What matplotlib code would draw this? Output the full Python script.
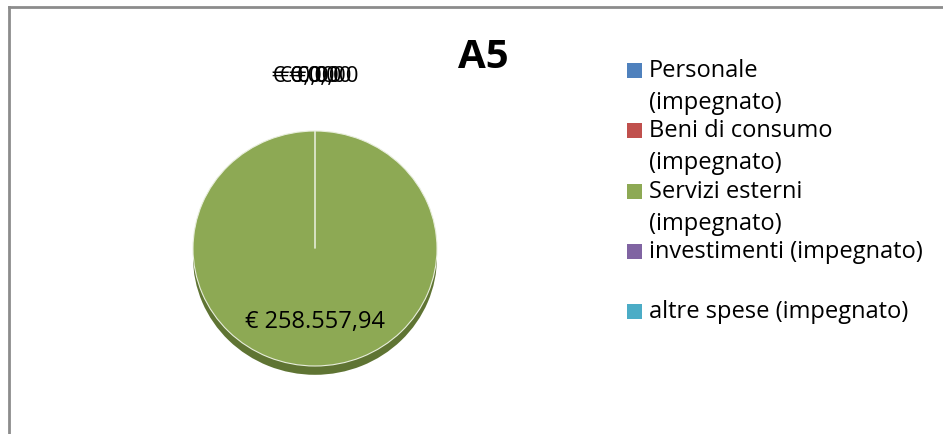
import matplotlib.pyplot as plt
from matplotlib.lines import Line2D
from matplotlib.patches import Rectangle

# chart data
title = "A5"
categories = ["Personale\n(impegnato)", "Beni di consumo\n(impegnato)",
              "Servizi esterni\n(impegnato)", "investimenti (impegnato)",
              "altre spese (impegnato)"]
values = [0.0, 0.0, 258557.94, 0.0, 0.0]
colors = ["#4F81BD", "#C0504D", "#8DA954", "#8064A2", "#4BACC6"]
shadow_color = "#5F7433"

plt.rcParams['font.family'] = ['Open Sans', 'DejaVu Sans']

W, H = 943, 435
fig = plt.figure(figsize=(W / 100, H / 100), dpi=100)


def px(x0, y0, w, h):
    # pixel box (top-left origin) -> figure fraction
    return [x0 / W, 1 - (y0 + h) / H, w / W, h / H]


def euro(v):
    s = f"{v:,.2f}".replace(",", "X").replace(".", ",").replace("X", ".")
    return "€ " + s


# chart frame (only top and left edges are visible)
fig.add_artist(Line2D([9 / W, 9 / W], [0, 1 - 8 / H], color="#8C8C8C", lw=2))
fig.add_artist(Line2D([9 / W, 1], [1 - 8 / H, 1 - 8 / H], color="#8C8C8C", lw=2))

ax = fig.add_axes(px(193, 132, 244, 235))

# darker copy below for the 3d edge
ax.pie(values, colors=[shadow_color] * len(values), startangle=90,
       counterclock=False, center=(0, -0.075), radius=1, frame=True)
wedges, _ = ax.pie(values, colors=colors, startangle=90, counterclock=False,
                   radius=1, frame=True,
                   wedgeprops=dict(edgecolor="#E8EEDC", linewidth=0.8))
ax.set_aspect("auto")
ax.set_xlim(-1, 1)
ax.set_ylim(-1, 1)
ax.axis("off")

shift = [-0.1, -0.04, 0, 0.04, 0.1]
for i, (w, v) in enumerate(zip(wedges, values)):
    if v == 0:
        ax.text(shift[i], 1.47, euro(v), ha="center", va="center",
                fontsize=16, color="black")
    else:
        ax.text(0, -0.62, euro(v), ha="center", va="center",
                fontsize=17, color="black")

fig.text(483 / W, 1 - 57 / H, title, ha="center", va="center",
         fontsize=29, fontweight="bold")

# legend
for i, (lab, c) in enumerate(zip(categories, colors)):
    yc = 72 + 60.3 * i
    fig.add_artist(Rectangle((627 / W, 1 - (yc + 7) / H), 15 / W, 15 / H,
                             facecolor=c, edgecolor="none",
                             transform=fig.transFigure))
    fig.text(649 / W, 1 - (yc - 13) / H, lab, ha="left", va="top",
             fontsize=17, linespacing=1.45)

fig.savefig("out.png", dpi=100)
